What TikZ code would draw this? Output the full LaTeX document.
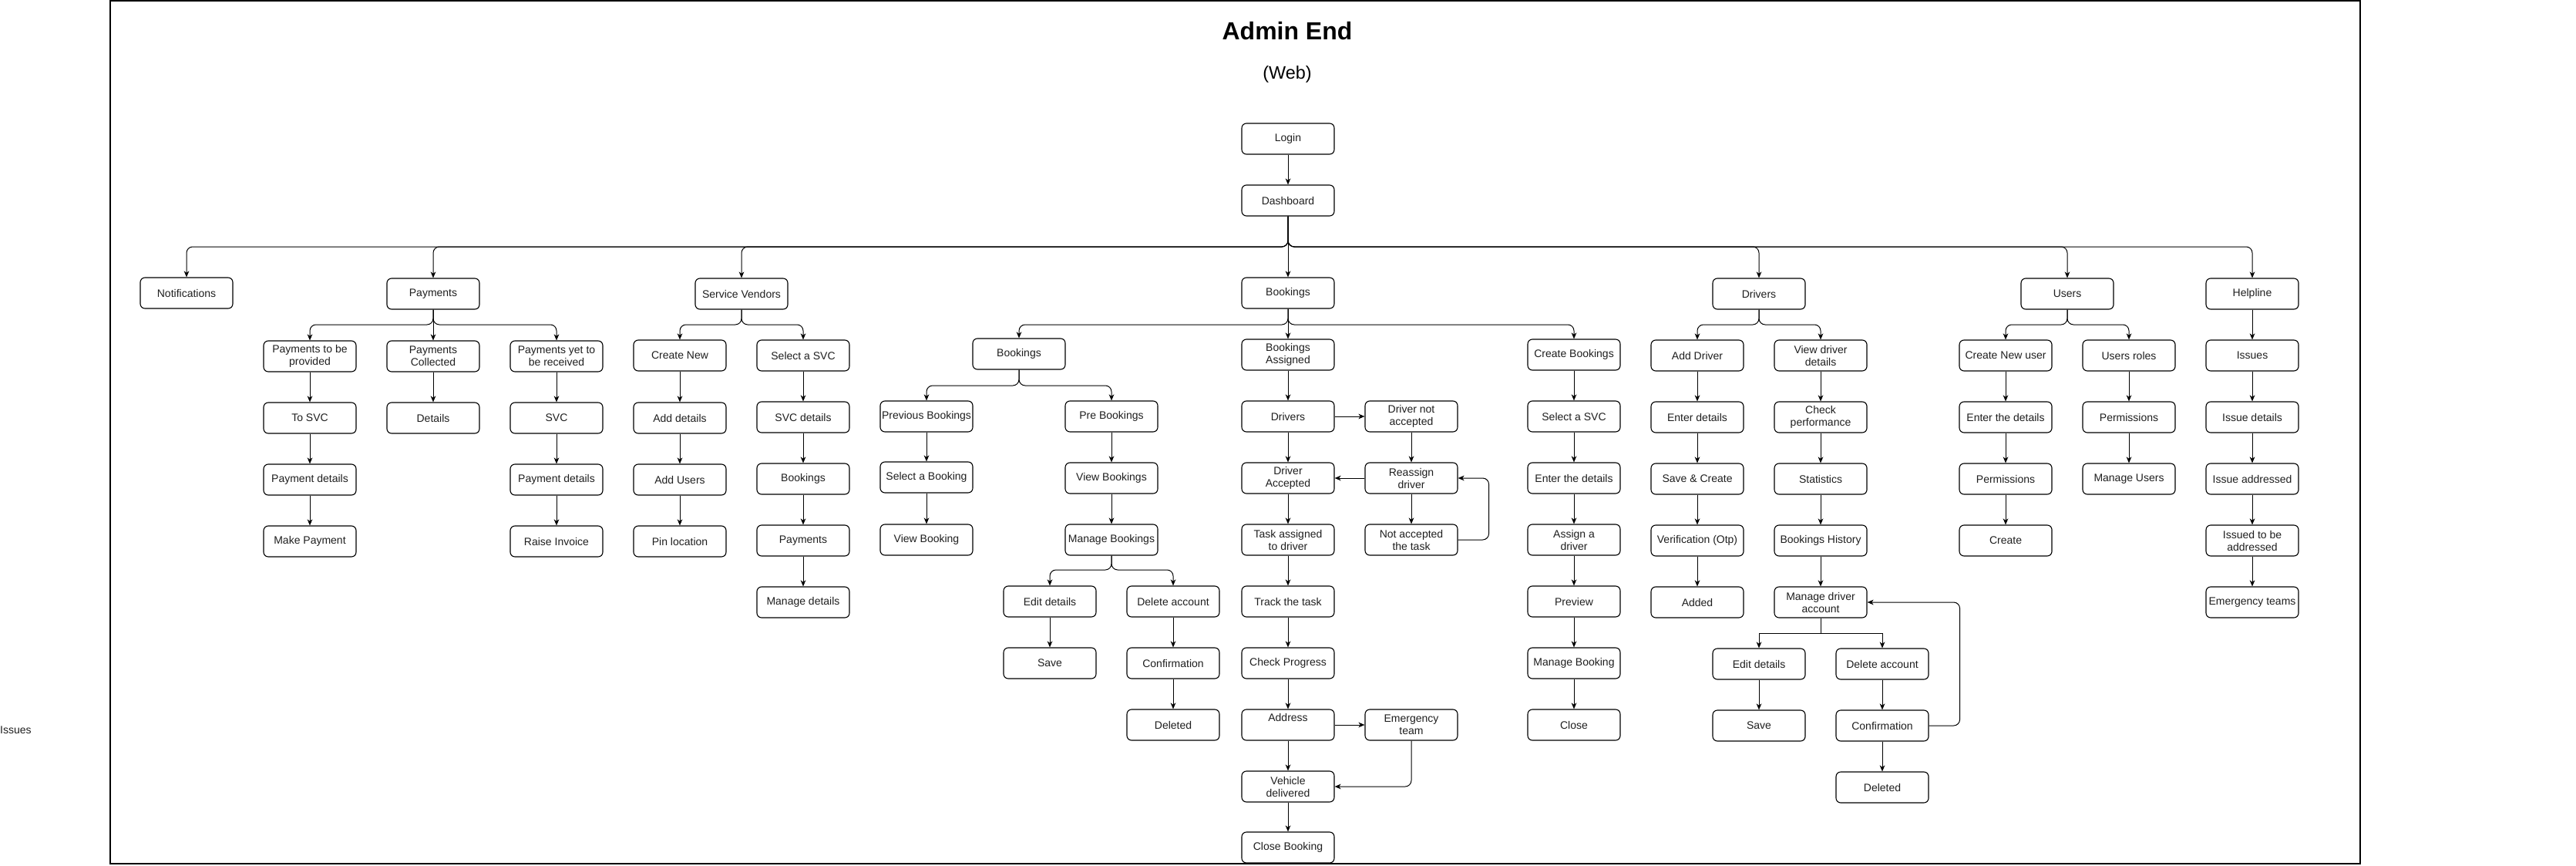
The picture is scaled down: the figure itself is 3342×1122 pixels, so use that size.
\documentclass[tikz,border=0pt]{standalone}
\usepackage{fontspec}
\setmainfont{Liberation Sans}
\usetikzlibrary{arrows.meta}
\definecolor{txt}{RGB}{30,30,30}
\newcommand\mybox[4]{\node[box] (#1) at (#2,#3) {#4};}
\newcommand\busedge[3]{\draw[arr, rounded corners=0.24cm] (#1.south) -- (#1.south |- #2) -| (#3.north);}
\newcommand\sharpbus[3]{\draw[arr] (#1.south) -- (#1.south |- #2) -| (#3.north);}
\begin{document}
\begin{tikzpicture}[x=0.03cm, y=-0.03cm,
  box/.style={draw, line width=0.95pt, rounded corners=0.18cm, minimum width=3.6cm, minimum height=1.2cm,
    align=center, inner sep=0pt, text=txt, font=\fontsize{11.95}{13.66}\selectfont},
  arr/.style={line width=0.85pt, -{Stealth[length=0.24cm,width=0.2cm,inset=0.07cm]}},
  lbl/.style={text=txt, inner sep=0pt, font=\fontsize{11.95}{13.66}\selectfont}
]
\useasboundingbox (0,0) rectangle (3342,1122);
\draw[line width=1.2pt] (143,1) rectangle (3062,1120);

\node[font=\bfseries\fontsize{27.3}{30}\selectfont, inner sep=0pt] (title) at (1670,40) {Admin End};
\node[font=\fontsize{20}{24}\selectfont, inner sep=0pt] (web) at (1670,96) {(Web)};
\node[lbl, anchor=west] (issuesL) at (0,947) {Issues};

\coordinate (b320) at (0,320);
\coordinate (b420) at (0,421);
\coordinate (b500) at (0,500);
\coordinate (b740) at (0,739);
\coordinate (b820) at (0,821);

% top
\mybox{login}{1671}{180}{Login}
\mybox{dash}{1671}{260}{Dashboard}
\mybox{notif}{242}{380}{Notifications}
\mybox{pay}{562}{381}{Payments}
\mybox{sv}{962}{381}{Service Vendors}
\mybox{book}{1671}{380}{Bookings}
\mybox{drv}{2282}{381}{Drivers}
\mybox{users}{2682}{381}{Users}
\mybox{help}{2922}{381}{Helpline}

% payments
\mybox{p1}{402}{462}{Payments to be\\provided}
\mybox{p2}{562}{462}{Payments\\Collected}
\mybox{p3}{722}{462}{Payments yet to\\be received}
\mybox{tosvc}{402}{542}{To SVC}
\mybox{pd1}{402}{622}{Payment details}
\mybox{mkpay}{402}{702}{Make Payment}
\mybox{det}{562}{542}{Details}
\mybox{svc}{722}{542}{SVC}
\mybox{pd2}{722}{622}{Payment details}
\mybox{raise}{722}{702}{Raise Invoice}

% service vendors
\mybox{cnew}{882}{461}{Create New}
\mybox{adddet}{882}{542}{Add details}
\mybox{addusers}{882}{622}{Add Users}
\mybox{pin}{882}{702}{Pin location}
\mybox{selsvc}{1042}{461}{Select a SVC}
\mybox{svcdet}{1042}{541}{SVC details}
\mybox{svcbook}{1042}{621}{Bookings}
\mybox{svcpay}{1042}{701}{Payments}
\mybox{mandet}{1042}{781}{Manage details}

% bookings
\mybox{bsub}{1322}{459}{Bookings}
\mybox{prev}{1202}{540}{Previous Bookings}
\mybox{selbk}{1202}{619}{Select a Booking}
\mybox{viewbk}{1202}{700}{View Booking}
\mybox{pre}{1442}{540}{Pre Bookings}
\mybox{viewbks}{1442}{620}{View Bookings}
\mybox{manbks}{1442}{700}{Manage Bookings}
\mybox{edit1}{1362}{780}{Edit details}
\mybox{save1}{1362}{860}{Save}
\mybox{del1}{1522}{780}{Delete account}
\mybox{conf1}{1522}{860}{Confirmation}
\mybox{deleted1}{1522}{940}{Deleted}
\mybox{bassign}{1671}{460}{Bookings\\Assigned}
\mybox{drivers}{1671}{540}{Drivers}
\mybox{dnot}{1831}{540}{Driver not\\accepted}
\mybox{dacc}{1671}{620}{Driver\\Accepted}
\mybox{reassign}{1831}{620}{Reassign\\driver}
\mybox{notacc}{1831}{700}{Not accepted\\the task}
\mybox{task}{1671}{700}{Task assigned\\to driver}
\mybox{track}{1671}{780}{Track the task}
\mybox{check}{1671}{860}{Check Progress}
\mybox{addr}{1671}{940}{Address\\\phantom{Ag}}
\mybox{emerg}{1831}{940}{Emergency\\team}
\mybox{veh}{1671}{1020}{Vehicle\\delivered}
\mybox{closebk}{1671}{1099}{Close Booking}
\mybox{cbook}{2042}{460}{Create Bookings}
\mybox{csel}{2042}{540}{Select a SVC}
\mybox{center}{2042}{620}{Enter the details}
\mybox{assign}{2042}{700}{Assign a\\driver}
\mybox{preview}{2042}{780}{Preview}
\mybox{manbk}{2042}{860}{Manage Booking}
\mybox{close2}{2042}{940}{Close}

% drivers
\mybox{adddrv}{2202}{461}{Add Driver}
\mybox{enterdet}{2202}{541}{Enter details}
\mybox{savecr}{2202}{621}{Save \& Create}
\mybox{verif}{2202}{701}{Verification (Otp)}
\mybox{added}{2202}{781}{Added}
\mybox{viewdrv}{2362}{461}{View driver\\details}
\mybox{checkperf}{2362}{541}{Check\\performance}
\mybox{stats}{2362}{621}{Statistics}
\mybox{bkhist}{2362}{701}{Bookings History}
\mybox{mandrv}{2362}{781}{Manage driver\\account}
\mybox{edit2}{2282}{861}{Edit details}
\mybox{save2}{2282}{941}{Save}
\mybox{del2}{2442}{861}{Delete account}
\mybox{conf2}{2442}{941}{Confirmation}
\mybox{deleted2}{2442}{1021}{Deleted}

% users
\mybox{cnu}{2602}{461}{Create New user}
\mybox{enterd}{2602}{541}{Enter the details}
\mybox{perm1}{2602}{621}{Permissions}
\mybox{create}{2602}{701}{Create}
\mybox{uroles}{2762}{461}{Users roles}
\mybox{perm2}{2762}{541}{Permissions}
\mybox{manusers}{2762}{621}{Manage Users}

% helpline
\mybox{issues}{2922}{461}{Issues}
\mybox{issdet}{2922}{541}{Issue details}
\mybox{issaddr}{2922}{621}{Issue addressed}
\mybox{issued}{2922}{701}{Issued to be\\addressed}
\mybox{emteams}{2922}{781}{Emergency teams}

% ---- connectors ----
\draw[arr] (login) -- (dash);
\busedge{dash}{b320}{notif}
\busedge{dash}{b320}{pay}
\busedge{dash}{b320}{sv}
\draw[arr] (dash) -- (book);
\busedge{dash}{b320}{drv}
\busedge{dash}{b320}{users}
\busedge{dash}{b320}{help}

\busedge{pay}{b420}{p1}
\draw[arr] (pay) -- (p2);
\busedge{pay}{b420}{p3}
\draw[arr] (p1) -- (tosvc);
\draw[arr] (tosvc) -- (pd1);
\draw[arr] (pd1) -- (mkpay);
\draw[arr] (p2) -- (det);
\draw[arr] (p3) -- (svc);
\draw[arr] (svc) -- (pd2);
\draw[arr] (pd2) -- (raise);

\busedge{sv}{b420}{cnew}
\busedge{sv}{b420}{selsvc}
\draw[arr] (cnew) -- (adddet);
\draw[arr] (adddet) -- (addusers);
\draw[arr] (addusers) -- (pin);
\draw[arr] (selsvc) -- (svcdet);
\draw[arr] (svcdet) -- (svcbook);
\draw[arr] (svcbook) -- (svcpay);
\draw[arr] (svcpay) -- (mandet);

\busedge{book}{b420}{bsub}
\draw[arr] (book) -- (bassign);
\busedge{book}{b420}{cbook}
\busedge{bsub}{b500}{prev}
\busedge{bsub}{b500}{pre}
\draw[arr] (prev) -- (selbk);
\draw[arr] (selbk) -- (viewbk);
\draw[arr] (pre) -- (viewbks);
\draw[arr] (viewbks) -- (manbks);
\busedge{manbks}{b740}{edit1}
\busedge{manbks}{b740}{del1}
\draw[arr] (edit1) -- (save1);
\draw[arr] (del1) -- (conf1);
\draw[arr] (conf1) -- (deleted1);

\draw[arr] (bassign) -- (drivers);
\draw[arr] (drivers) -- (dnot);
\draw[arr] (dnot) -- (reassign);
\draw[arr] (reassign) -- (dacc);
\draw[arr] (reassign) -- (notacc);
\draw[arr, rounded corners=0.24cm] (notacc.east) -- ++(40,0) |- (reassign.east);
\draw[arr] (drivers) -- (dacc);
\draw[arr] (dacc) -- (task);
\draw[arr] (task) -- (track);
\draw[arr] (track) -- (check);
\draw[arr] (check) -- (addr);
\draw[arr] (addr) -- (emerg);
\draw[arr] (addr) -- (veh);
\draw[arr, rounded corners=0.24cm] (emerg.south) |- (veh.east);
\draw[arr] (veh) -- (closebk);

\draw[arr] (cbook) -- (csel);
\draw[arr] (csel) -- (center);
\draw[arr] (center) -- (assign);
\draw[arr] (assign) -- (preview);
\draw[arr] (preview) -- (manbk);
\draw[arr] (manbk) -- (close2);

\busedge{drv}{b420}{adddrv}
\busedge{drv}{b420}{viewdrv}
\draw[arr] (adddrv) -- (enterdet);
\draw[arr] (enterdet) -- (savecr);
\draw[arr] (savecr) -- (verif);
\draw[arr] (verif) -- (added);
\draw[arr] (viewdrv) -- (checkperf);
\draw[arr] (checkperf) -- (stats);
\draw[arr] (stats) -- (bkhist);
\draw[arr] (bkhist) -- (mandrv);
\sharpbus{mandrv}{b820}{edit2}
\sharpbus{mandrv}{b820}{del2}
\draw[arr] (edit2) -- (save2);
\draw[arr] (del2) -- (conf2);
\draw[arr] (conf2) -- (deleted2);
\draw[arr, rounded corners=0.24cm] (conf2.east) -- ++(40,0) |- (mandrv.east);

\busedge{users}{b420}{cnu}
\busedge{users}{b420}{uroles}
\draw[arr] (cnu) -- (enterd);
\draw[arr] (enterd) -- (perm1);
\draw[arr] (perm1) -- (create);
\draw[arr] (uroles) -- (perm2);
\draw[arr] (perm2) -- (manusers);

\draw[arr] (help) -- (issues);
\draw[arr] (issues) -- (issdet);
\draw[arr] (issdet) -- (issaddr);
\draw[arr] (issaddr) -- (issued);
\draw[arr] (issued) -- (emteams);
\end{tikzpicture}
\end{document}
